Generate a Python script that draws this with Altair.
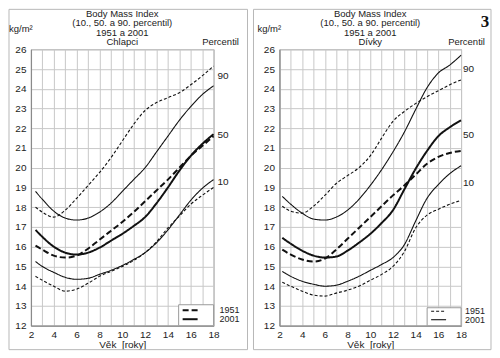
import altair as alt
import pandas as pd

# ---------------- data ----------------
AGES_BOYS = [2.4, 3, 4, 5, 6, 7, 8, 9, 10, 11, 12, 13, 14, 15, 16, 17, 18]
AGES_GIRLS = [2.25, 3, 4, 5, 6, 7, 8, 9, 10, 11, 12, 13, 14, 15, 16, 17, 18]

BOYS_P90_2001 = [18.8, 18.4, 17.8, 17.45, 17.35, 17.45, 17.75, 18.2, 18.8, 19.4, 20.0, 20.8, 21.6, 22.4, 23.1, 23.7, 24.15]
BOYS_P90_1951 = [18.0, 17.75, 17.5, 17.85, 18.45, 19.1, 19.75, 20.5, 21.35, 22.2, 22.9, 23.3, 23.55, 23.8, 24.2, 24.65, 25.15]
BOYS_P50_2001 = [16.85, 16.5, 16.0, 15.7, 15.6, 15.7, 15.95, 16.3, 16.65, 17.05, 17.5, 18.2, 19.0, 19.85, 20.6, 21.2, 21.7]
BOYS_P50_1951 = [16.05, 15.85, 15.55, 15.45, 15.55, 15.9, 16.35, 16.8, 17.25, 17.75, 18.3, 18.85, 19.4, 20.0, 20.6, 21.1, 21.6]
BOYS_P10_2001 = [15.25, 15.0, 14.7, 14.45, 14.35, 14.4, 14.6, 14.8, 15.05, 15.35, 15.7, 16.2, 16.85, 17.6, 18.35, 18.95, 19.4]
BOYS_P10_1951 = [14.5, 14.3, 14.0, 13.75, 13.85, 14.15, 14.5, 14.75, 15.0, 15.3, 15.7, 16.25, 16.95, 17.55, 18.15, 18.6, 19.0]

GIRLS_P90_2001 = [18.55, 18.15, 17.7, 17.4, 17.35, 17.5, 17.85, 18.4, 19.1, 19.9, 20.8, 21.8, 22.95, 24.05, 24.8, 25.2, 25.7]
GIRLS_P90_1951 = [18.05, 17.8, 17.7, 18.05, 18.6, 19.2, 19.6, 20.0, 20.6, 21.5, 22.35, 22.85, 23.25, 23.6, 23.9, 24.2, 24.45]
GIRLS_P50_2001 = [16.45, 16.15, 15.8, 15.55, 15.45, 15.5, 15.8, 16.2, 16.65, 17.2, 17.85, 18.9, 19.95, 20.85, 21.6, 22.05, 22.4]
GIRLS_P50_1951 = [15.85, 15.6, 15.35, 15.25, 15.4, 15.85, 16.4, 16.95, 17.5, 18.05, 18.6, 19.1, 19.65, 20.2, 20.55, 20.75, 20.85]
GIRLS_P10_2001 = [14.75, 14.5, 14.25, 14.1, 14.0, 14.05, 14.25, 14.5, 14.8, 15.1, 15.45, 16.1, 17.3, 18.45, 19.15, 19.7, 20.1]
GIRLS_P10_1951 = [14.2, 14.0, 13.75, 13.55, 13.5, 13.65, 13.8, 14.0, 14.3, 14.6, 15.0, 15.75, 16.95, 17.6, 17.9, 18.15, 18.35]

PERCENTILES = ["90", "50", "10"]
YEARS = ["1951", "2001"]
BOYS_LABEL_Y = [24.65, 21.65, 19.3]
GIRLS_LABEL_Y = [25.0, 21.65, 19.25]
X_TICKS = list(range(2, 19))
Y_TICKS = list(range(12, 27))

TITLE_LINES = ["Body Mass Index", "(10., 50. a 90. percentil)", "1951 a 2001"]

FONT = "Liberation Sans"
INK = "#111111"
TXT = "#222222"
ONE = pd.DataFrame({"a": [0]})
H = 277

X_SCALE = alt.Scale(domain=[2, 18], nice=False, zero=False)
Y_SCALE = alt.Scale(domain=[12, 26], nice=False, zero=False)
X_AXIS = alt.Axis(values=X_TICKS, grid=True, labelOverlap=False, labelFlush=False,
                  labelExpr="datum.value % 2 == 0 ? datum.label : ''",
                  title="V\u011bk\u00a0 [roky]", labelPadding=4, titlePadding=0)
Y_AXIS = alt.Axis(values=Y_TICKS, grid=True, labelOverlap=False, labelFlush=False,
                  title=None, labelPadding=5)


def build_df(ages, series):
    rows = []
    for (pct, year), vals in series.items():
        w = "thick" if pct == "50" else "thin"
        for a, v in zip(ages, vals):
            rows.append({"age": a, "bmi": v, "series": f"{pct}-{year}",
                         "w": w, "dash": f"{year}-{w}"})
    return pd.DataFrame(rows)


def txt(s, x, y, **kw):
    opts = dict(font=FONT, fontSize=10, color=TXT, baseline="middle")
    opts.update(kw)
    return alt.Chart(ONE).mark_text(**opts).encode(
        x=alt.value(x), y=alt.value(y), text=alt.value(s))


def panel(ages, series, sex, width, label_ys, frame_x, legend_thick, box_h,
          dash_off, legend_text_x, pct_x, percentil_x, extra=None):
    df = build_df(ages, series)
    lines = alt.Chart(df).mark_line(interpolate="monotone", color=INK).encode(
        x=alt.X("age:Q", scale=X_SCALE, axis=X_AXIS),
        y=alt.Y("bmi:Q", scale=Y_SCALE, axis=Y_AXIS),
        detail="series:N",
        strokeDash=alt.StrokeDash("dash:N", scale=alt.Scale(
            domain=["1951-thin", "1951-thick", "2001-thin", "2001-thick"],
            range=[[3, 2], [6, 3], [1, 0], [1, 0]]), legend=None),
        strokeWidth=alt.StrokeWidth("w:N", scale=alt.Scale(
            domain=["thin", "thick"], range=[1.1, 2.0]), legend=None),
    )
    frame = alt.Chart(ONE).mark_rect(fillOpacity=0, stroke="#b8b8b8", strokeWidth=1).encode(
        x=alt.value(frame_x[0]), x2=alt.value(frame_x[1]),
        y=alt.value(-40), y2=alt.value(H + 24))
    layers = [lines, frame]
    # legend box
    lw = 2.0 if legend_thick else 1.1
    ld = [6, 3] if legend_thick else [3, 2]
    dy = (H - dash_off[0], H - dash_off[1])
    layers.append(alt.Chart(ONE).mark_rect(fill="white", stroke="#9a9a9a", strokeWidth=1).encode(
        x=alt.value(148), x2=alt.value(width), y=alt.value(H - box_h), y2=alt.value(H)))
    layers.append(alt.Chart(ONE).mark_rule(color=INK, strokeWidth=lw, strokeDash=ld).encode(
        x=alt.value(152), x2=alt.value(167), y=alt.value(dy[0])))
    layers.append(alt.Chart(ONE).mark_rule(color=INK, strokeWidth=lw).encode(
        x=alt.value(152), x2=alt.value(167), y=alt.value(dy[1])))
    layers.append(txt(YEARS[0], legend_text_x, dy[0], align="left", fontSize=9))
    layers.append(txt(YEARS[1], legend_text_x, dy[1], align="left", fontSize=9))
    # percentile labels (positioned through the y scale)
    lab = pd.DataFrame({"bmi": label_ys, "p": PERCENTILES})
    layers.append(alt.Chart(lab).mark_text(font=FONT, fontSize=10, color=TXT,
                                           align="left", baseline="middle").encode(
        x=alt.value(pct_x), y=alt.Y("bmi:Q", scale=Y_SCALE, axis=Y_AXIS), text="p:N"))
    # titles
    for t, yy in zip(TITLE_LINES + [sex], [-35.5, -26, -16.5, -7]):
        layers.append(txt(t, width / 2, yy, align="center", fontSize=9.5))
    layers.append(txt("kg/m\u00b2", -22, -20, align="left", fontSize=9.5))
    layers.append(txt("Percentil", percentil_x, -7, align="center", fontSize=9.5))
    if extra is not None:
        layers.append(extra)
    return alt.layer(*layers).properties(width=width, height=H)


boys = {("90", "2001"): BOYS_P90_2001, ("90", "1951"): BOYS_P90_1951,
        ("50", "2001"): BOYS_P50_2001, ("50", "1951"): BOYS_P50_1951,
        ("10", "2001"): BOYS_P10_2001, ("10", "1951"): BOYS_P10_1951}
girls = {("90", "2001"): GIRLS_P90_2001, ("90", "1951"): GIRLS_P90_1951,
         ("50", "2001"): GIRLS_P50_2001, ("50", "1951"): GIRLS_P50_1951,
         ("10", "2001"): GIRLS_P10_2001, ("10", "1951"): GIRLS_P10_1951}

left = panel(AGES_BOYS, boys, "Chlapci", 183, BOYS_LABEL_Y, (-22, 217), True,
             21, (15.5, 6.5), 189, 187, 190)
three = txt("3", 206, -27, align="center", font="Liberation Serif", fontSize=17,
            fontWeight="bold", color="#111")
right = panel(AGES_GIRLS, girls, "D\u00edvky", 182, GIRLS_LABEL_Y, (-26, 212), False,
              18, (14.5, 6), 186, 184, 187.5, extra=three)

chart = alt.hconcat(left, right, spacing=66, bounds="flush", padding=0).configure_view(
    stroke="#9a9a9a", strokeWidth=1
).configure_axis(
    labelFont=FONT, labelFontSize=10, labelColor=TXT,
    titleFont=FONT, titleFontSize=10, titleFontWeight="normal", titleColor=TXT,
    gridColor="#c8c8c8", gridWidth=1, gridOpacity=1, domainColor="#8a8a8a", domainWidth=1.2,
    ticks=False,
)

chart.save("out.html", embed_options={"renderer": "svg", "actions": False})
